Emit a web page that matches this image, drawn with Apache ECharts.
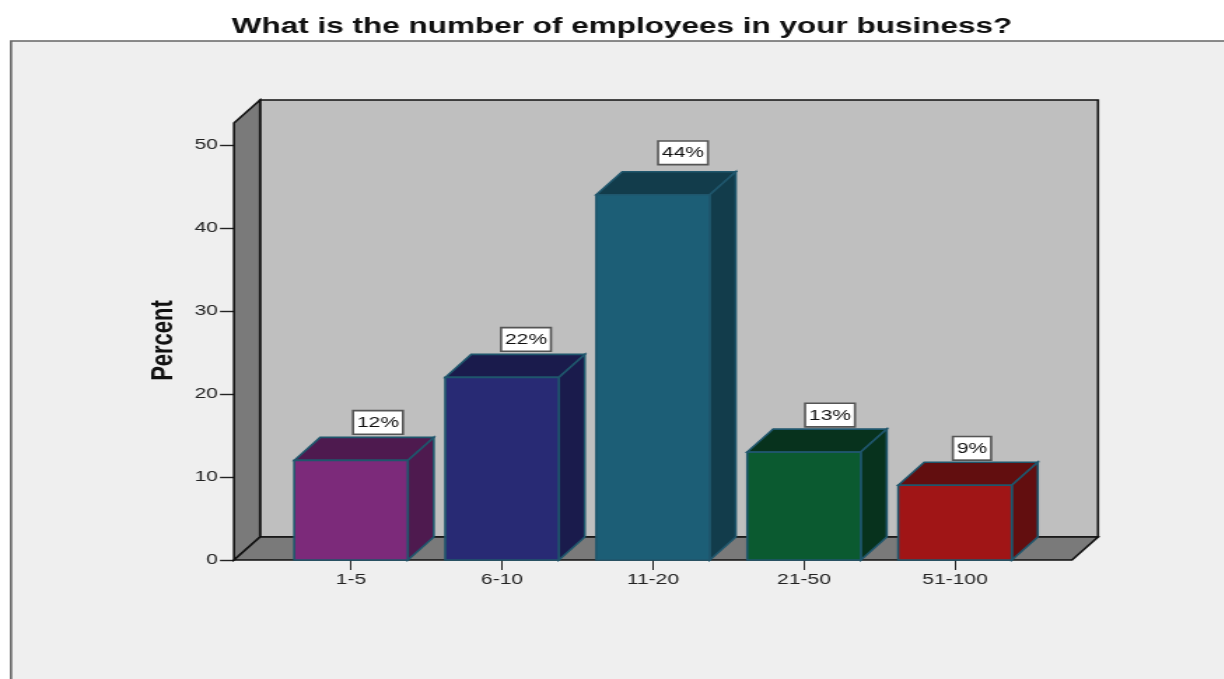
<!DOCTYPE html>
<html>
<head>
<meta charset="utf-8">
<title>What is the number of employees in your business?</title>
<style>
  html, body { margin: 0; padding: 0; background: #fff; overflow: hidden; }
  #chart { width: 874.29px; height: 679px; transform: scaleX(1.4); transform-origin: 0 0; }
</style>
<script src="https://cdn.jsdelivr.net/npm/echarts@6/dist/echarts.min.js"></script>
</head>
<body>
<div id="chart"></div>
<script>
  const chartTitle = 'What is the number of employees in your business?';
  const categories = ['1-5', '6-10', '11-20', '21-50', '51-100'];
  const percents = [12, 22, 44, 13, 9];
  const valueLabels = ['12%', '22%', '44%', '13%', '9%'];
  const frontColors = ['#7c2a7a', '#282a74', '#1c5e76', '#0b5a30', '#a01516'];
  const shadeColors = ['#4e1a4f', '#1a1b4c', '#123c4b', '#07321d', '#620e0f'];

  // The whole drawing is widened by CSS, so horizontal sizes are given in final pixels.
  const stretch = 1.4;
  const px = v => v / stretch;
  const depthX = px(26), depthY = 23;
  const wallTop = 52.65;
  const edge = '#1f566c';
  const labelShift = [27, 24, 30, 26, 17].map(px);
  const labelGap = [4, 4, 8, 3, 3];

  const poly = (points, fill, stroke, lineWidth) => ({
    type: 'polygon',
    shape: { points },
    style: { fill, stroke, lineWidth, lineJoin: 'miter' }
  });

  // Back wall, side wall and floor of the box behind the bars.
  function renderFrame(params, api) {
    const band = api.size([1, 0])[0];
    const overhang = px(41.5);
    const first = api.coord([0, 0]);
    const last = api.coord([categories.length - 1, 0]);
    const top = api.coord([0, wallTop])[1];
    const x0 = first[0] - band / 2 - overhang;
    const x1 = last[0] + band / 2 + overhang;
    const y0 = first[1];
    const line = '#111';
    return {
      type: 'group',
      children: [
        poly([[x0 + depthX, top - depthY], [x1 + depthX, top - depthY], [x1 + depthX, y0 - depthY], [x0 + depthX, y0 - depthY]], '#bfbfbf', line, 1.6),
        poly([[x0, top], [x0 + depthX, top - depthY], [x0 + depthX, y0 - depthY], [x0, y0]], '#7a7a7a', line, 1.6),
        poly([[x0, y0], [x0 + depthX, y0 - depthY], [x1 + depthX, y0 - depthY], [x1, y0]], '#7a7a7a', line, 1.6)
      ]
    };
  }

  // One extruded bar with its boxed value label.
  function renderBar(params, api) {
    const i = params.dataIndex;
    const base = api.coord([api.value(0), 0]);
    const tip = api.coord([api.value(0), api.value(1)]);
    const w = api.size([1, 0])[0] * 0.752;
    const l = base[0] - w / 2, r = base[0] + w / 2;
    const t = tip[1], b = base[1];
    return {
      type: 'group',
      children: [
        poly([[l, t], [l + depthX, t - depthY], [r + depthX, t - depthY], [r, t]], shadeColors[i], edge, 1.6),
        poly([[r, t], [r + depthX, t - depthY], [r + depthX, b - depthY], [r, b]], shadeColors[i], edge, 1.6),
        poly([[l, t], [r, t], [r, b], [l, b]], frontColors[i], edge, 1.6),
        {
          type: 'text',
          x: base[0] + labelShift[i],
          y: t - depthY - labelGap[i],
          style: {
            text: valueLabels[i],
            font: '15px "Liberation Sans"',
            fill: '#111',
            align: 'center',
            verticalAlign: 'bottom',
            backgroundColor: '#fff',
            borderColor: '#555',
            borderWidth: 1.6,
            padding: [4, 2, 3, 2]
          }
        }
      ]
    };
  }

  const chart = echarts.init(document.getElementById('chart'), null, { renderer: 'canvas' });
  chart.setOption({
    animation: false,
    backgroundColor: '#fff',
    title: {
      text: chartTitle,
      left: px(615),
      top: 10,
      textAlign: 'center',
      textStyle: { fontFamily: 'Liberation Sans', fontWeight: 'bold', fontSize: 22.5, color: '#111' }
    },
    graphic: [{
      type: 'rect',
      shape: { x: px(11), y: 41, width: 1000, height: 800 },
      style: { fill: '#efefef', stroke: '#666', lineWidth: 1.6 },
      silent: true
    }],
    grid: { left: px(275.5), width: px(755), top: 145, height: 415 },
    xAxis: {
      type: 'category',
      data: categories,
      axisLine: { show: false },
      axisTick: { show: true, alignWithLabel: true, length: 10, lineStyle: { color: '#222', width: 1 } },
      axisLabel: { margin: 12, fontFamily: 'Liberation Sans', fontSize: 15, color: '#222' }
    },
    yAxis: {
      type: 'value',
      min: 0,
      max: 50,
      interval: 10,
      offset: px(41.5),
      name: 'Percent',
      nameLocation: 'middle',
      nameGap: 39,
      nameTextStyle: { fontFamily: 'Liberation Sans', fontWeight: 'bold', fontSize: 22, color: '#111', padding: [0, 0, 0, 24] },
      axisLine: { show: false },
      axisTick: { show: true, length: px(14), lineStyle: { color: '#222', width: 1.4 } },
      axisLabel: { margin: 11.5, padding: [3, 0, 0, 0], fontFamily: 'Liberation Sans', fontSize: 15, color: '#222' },
      splitLine: { show: false }
    },
    series: [
      { type: 'custom', z: 1, silent: true, renderItem: renderFrame, data: [[0, 0]] },
      { type: 'custom', z: 3, silent: true, renderItem: renderBar, data: percents.map((v, i) => [i, v]) }
    ]
  });
</script>
</body>
</html>
